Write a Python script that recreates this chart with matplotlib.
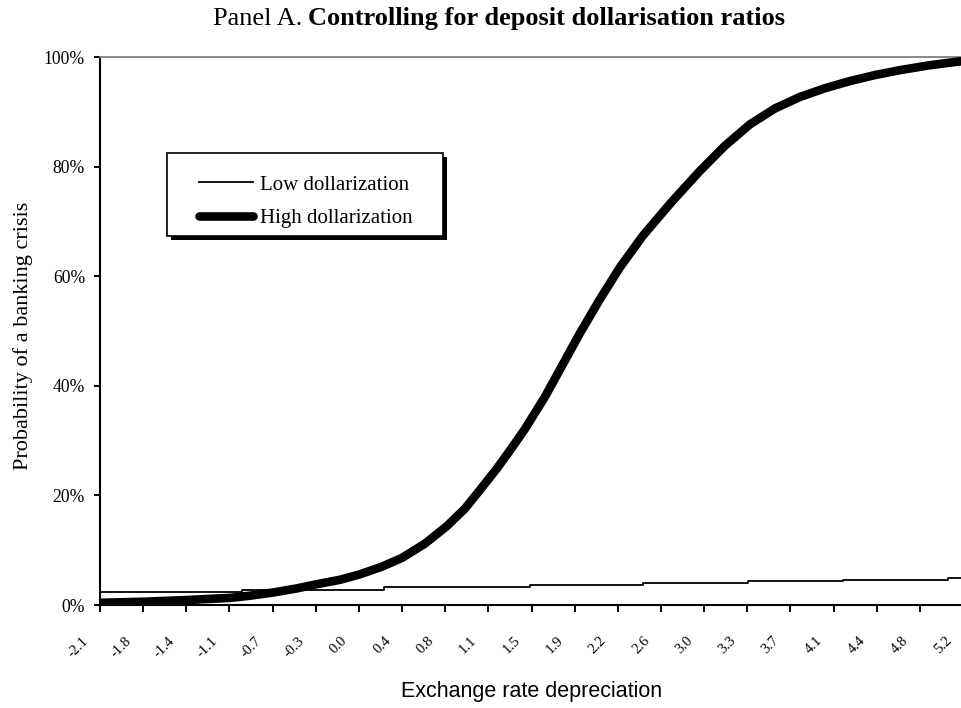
import numpy as np
import matplotlib
matplotlib.use('Agg')
import matplotlib.pyplot as plt
import matplotlib.transforms as mtransforms
from matplotlib.patches import Rectangle

# ---------------- data ----------------
tick_labels = ['-2.1', '-1.8', '-1.4', '-1.1', '-0.7', '-0.3', '0.0', '0.4', '0.8',
               '1.1', '1.5', '1.9', '2.2', '2.6', '3.0', '3.3', '3.7', '4.1', '4.4',
               '4.8', '5.2']
x_first_tick = -2.146
x_last_tick = 5.158

x_high = [-2.146, -1.774, -1.418, -1.046, -0.877, -0.674, -0.487, -0.310, -0.115,
          0.054, 0.240, 0.410, 0.604, 0.790, 0.943, 1.070, 1.213, 1.340, 1.450,
          1.620, 1.763, 1.916, 2.085, 2.254, 2.449, 2.694, 2.931, 3.143, 3.354,
          3.566, 3.777, 3.989, 4.200, 4.412, 4.624, 4.877, 5.131, 5.158]
y_high = [0.4, 0.6, 0.9, 1.3, 1.7, 2.3, 3.0, 3.8, 4.6,
          5.6, 7.0, 8.6, 11.2, 14.4, 17.6, 21.0, 24.9, 28.7, 32.1,
          38.0, 43.6, 49.6, 55.8, 61.6, 67.4, 73.6, 79.2, 83.8, 87.7,
          90.6, 92.7, 94.3, 95.6, 96.7, 97.6, 98.5, 99.2, 99.2]

x_low = [-2.15, -0.94, 0.26, 1.49, 2.45, 3.34, 4.14, 5.03, 5.16]
y_low = [2.4, 2.8, 3.2, 3.6, 3.95, 4.3, 4.6, 5.0, 5.0]

series_names = ['Low dollarization', 'High dollarization']
title_plain = 'Panel A.'
title_bold = 'Controlling for deposit dollarisation ratios'
x_title = 'Exchange rate depreciation'
y_title = 'Probability of a banking crisis'

SERIF = 'Liberation Serif'
SANS = 'Liberation Sans'

W, H = 961, 708
fig = plt.figure(figsize=(W / 100, H / 100), dpi=100)
ax_l, ax_r, ax_t, ax_b = 100, 963, 57, 605
ax = fig.add_axes([ax_l / W, (H - ax_b) / H, (ax_r - ax_l) / W, (ax_b - ax_t) / H])

ax.plot(x_low, y_low, color='black', lw=1.3, drawstyle='steps-post',
        label=series_names[0], zorder=3)
ax.plot(x_high, y_high, color='black', lw=6.2, solid_capstyle='round',
        solid_joinstyle='round', label=series_names[1], zorder=4)

ax.set_xlim(x_first_tick, x_last_tick)
ax.set_ylim(0, 100)

# spines
for s in ['left', 'bottom']:
    ax.spines[s].set_color('black')
    ax.spines[s].set_linewidth(1.5)
ax.spines['top'].set_color('#808080')
ax.spines['top'].set_linewidth(1.3)
ax.spines['right'].set_visible(False)

# y axis
yt = [0, 20, 40, 60, 80, 100]
ax.set_yticks(yt)
ax.set_yticklabels([f'{v}%' for v in yt], fontfamily=SERIF, fontsize=12.7)
ax.tick_params(axis='y', direction='out', length=4.3, width=1.4, pad=6.5,
               colors='black')

# x axis
xt = np.linspace(x_first_tick, x_last_tick, len(tick_labels))
ax.set_xticks(xt)
ax.set_xticklabels(tick_labels, fontfamily=SERIF, fontsize=10.5, rotation=45,
                   ha='right', va='top')
ax.tick_params(axis='x', direction='out', length=5, width=1.4, pad=16,
               colors='black')
offset = mtransforms.ScaledTranslation(-9 / 100, 0, fig.dpi_scale_trans)
for lab in ax.get_xticklabels():
    lab.set_transform(lab.get_transform() + offset)

ax.set_xlabel(x_title, fontfamily=SANS, fontsize=15.5)
ax.xaxis.set_label_coords(0.5, (ax_b - 692) / (ax_b - ax_t))
ax.xaxis.label.set_va('center')

ax.set_ylabel(y_title, fontfamily=SERIF, fontsize=16)
ax.yaxis.set_label_coords((23 - ax_l) / (ax_r - ax_l), (ax_b - 336) / (ax_b - ax_t))
ax.yaxis.label.set_va('center')

# legend box with shadow
def fx(px):
    return (px - ax_l) / (ax_r - ax_l)

def fy(py):
    return (ax_b - py) / (ax_b - ax_t)

bx0, by0, bx1, by1 = 167, 153, 443, 236
sh = 4
ax.add_patch(Rectangle((fx(bx0 + sh), fy(by1 + sh)), fx(bx1 + sh) - fx(bx0 + sh),
                       fy(by0 + sh) - fy(by1 + sh), transform=ax.transAxes,
                       facecolor='black', edgecolor='black', lw=0, zorder=5))
ax.add_patch(Rectangle((fx(bx0), fy(by1)), fx(bx1) - fx(bx0), fy(by0) - fy(by1),
                       transform=ax.transAxes, facecolor='white',
                       edgecolor='black', lw=1.2, zorder=6))
leg = ax.legend(loc='upper left', bbox_to_anchor=(fx(199), fy(175)),
                borderaxespad=0, borderpad=0, frameon=False,
                prop={'family': SERIF, 'size': 15}, handlelength=2.6,
                handletextpad=0.35, labelspacing=0.68)
leg.set_zorder(7)

# title: plain + bold parts
t1 = fig.text(213 / W, (H - 25) / H, title_plain, fontfamily=SERIF, fontsize=19,
              ha='left', va='baseline')
fig.canvas.draw()
bb = t1.get_window_extent()
fig.text((bb.x1 + 6) / W, (H - 25) / H, title_bold, fontfamily=SERIF,
         fontsize=19, fontweight='bold', ha='left', va='baseline')

fig.savefig('out.png', dpi=100)
